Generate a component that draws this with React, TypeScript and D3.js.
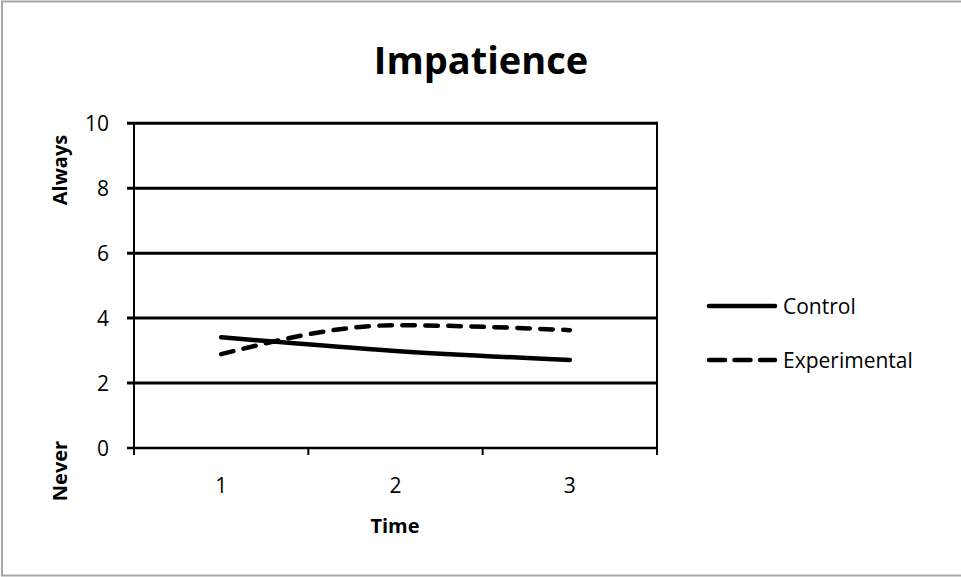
import React from "react";
import * as d3 from "d3";

const categories = ["1", "2", "3"];
const controlValues = [3.41, 2.99, 2.71];
const experimentalValues = [2.89, 3.78, 3.63];
const yTicks = [0, 2, 4, 6, 8, 10];
const seriesNames = ["Control", "Experimental"];

const W = 961;
const H = 577;
const FONT = "'Open Sans', 'Liberation Sans', Arial, sans-serif";

export default function App() {
  const left = 134;
  const right = 657;
  const top = 123.3;
  const bottom = 448;

  const x = d3.scaleBand<string>().domain(categories).range([left, right]);
  const y = d3.scaleLinear().domain([0, 10]).range([bottom, top]);
  const cx = (c: string) => (x(c) as number) + x.bandwidth() / 2;

  const line = d3
    .line<number>()
    .x((_, i) => cx(categories[i]))
    .y((d) => y(d))
    .curve(d3.curveMonotoneX);

  const series = [
    { name: seriesNames[0], values: controlValues, dash: undefined as string | undefined },
    { name: seriesNames[1], values: experimentalValues, dash: "12.5,10.5" },
  ];

  const boundaries = [left, ...categories.map((c) => (x(c) as number) + x.bandwidth())];

  return (
    <svg
      width={W}
      height={H}
      style={{ position: "absolute", left: 0, top: 0, background: "#fff" }}
      fontFamily={FONT}
    >
      <rect x={2} y={1.5} width={W + 10} height={H - 3} fill="#fff" stroke="#a6a6a6" strokeWidth={2} />
      <text x={481} y={74} textAnchor="middle" fontSize={38} fontWeight="bold" fill="#000">
        Impatience
      </text>

      {/* gridlines */}
      {yTicks.map((t) => (
        <line key={t} x1={left - 7} x2={right} y1={y(t)} y2={y(t)} stroke="#000" strokeWidth={t === 0 ? 2.5 : 3} />
      ))}
      {/* y axis */}
      <line x1={left} x2={left} y1={top - 1} y2={bottom + 7} stroke="#000" strokeWidth={2} />
      {/* right plot border */}
      <line x1={right} x2={right} y1={top - 1.5} y2={bottom + 7} stroke="#000" strokeWidth={2} />
      {/* x ticks */}
      {boundaries.map((b, i) => (
        <line key={i} x1={b} x2={b} y1={bottom} y2={bottom + 7} stroke="#000" strokeWidth={2} />
      ))}

      {yTicks.map((t) => (
        <text key={t} x={109} y={y(t) + 7.5} textAnchor="end" fontSize={21} fill="#000">
          {t}
        </text>
      ))}
      {categories.map((c) => (
        <text key={c} x={cx(c)} y={493} textAnchor="middle" fontSize={21} fill="#000">
          {c}
        </text>
      ))}
      <text x={395} y={533} textAnchor="middle" fontSize={20} fontWeight="bold" fill="#000">
        Time
      </text>
      <text transform="translate(67,170) rotate(-90)" textAnchor="middle" fontSize={20} fontWeight="bold" fill="#000">
        Always
      </text>
      <text transform="translate(67,471) rotate(-90)" textAnchor="middle" fontSize={20} fontWeight="bold" fill="#000">
        Never
      </text>

      {series.map((s) => (
        <path
          key={s.name}
          d={line(s.values) || ""}
          fill="none"
          stroke="#000"
          strokeWidth={4.5}
          strokeLinecap="round"
          strokeDasharray={s.dash}
        />
      ))}

      {/* legend */}
      {series.map((s, i) => {
        const ly = 306 + i * 54;
        return (
          <g key={s.name}>
            <line
              x1={709}
              x2={775}
              y1={ly}
              y2={ly}
              stroke="#000"
              strokeWidth={4.5}
              strokeLinecap="round"
              strokeDasharray={s.dash ? "16,9.5" : undefined}
            />
            <text x={783} y={ly + 7.5} fontSize={21} fill="#000">
              {s.name}
            </text>
          </g>
        );
      })}
    </svg>
  );
}
